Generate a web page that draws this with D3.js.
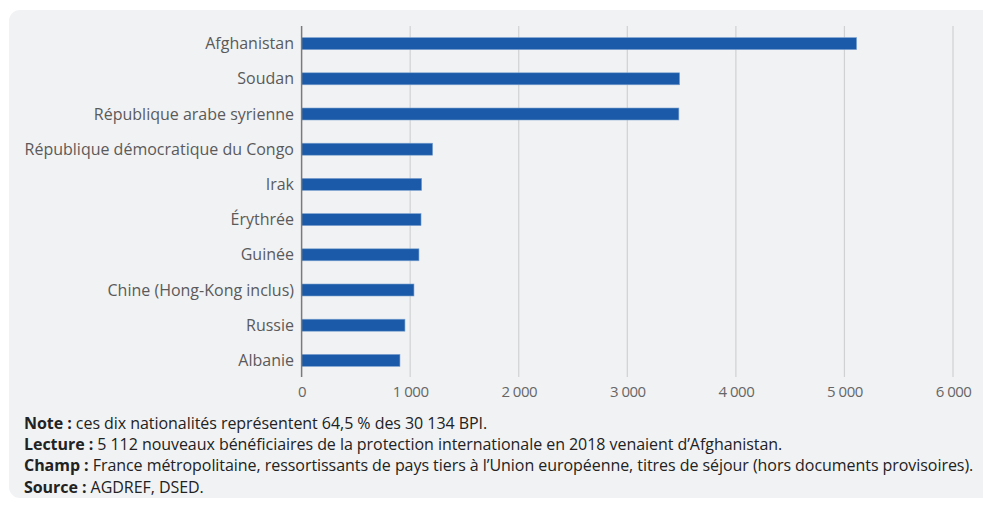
<!DOCTYPE html>
<html><head><meta charset="utf-8">
<script src="https://cdn.jsdelivr.net/npm/d3@7"></script>
<style>
html,body{margin:0;padding:0;background:#fff;}
svg{display:block;font-family:"Open Sans",sans-serif;}
</style></head>
<body>
<svg id="c" width="983" height="505"></svg>
<script>
const categories = ["Afghanistan","Soudan","République arabe syrienne","République démocratique du Congo","Irak","Érythrée","Guinée","Chine (Hong-Kong inclus)","Russie","Albanie"];
const values = [5112,3482,3475,1207,1106,1100,1081,1035,952,906];
const xTicks = [0,1000,2000,3000,4000,5000,6000];
const notes = [
  ["Note :"," ces dix nationalités représentent 64,5 % des 30 134 BPI."],
  ["Lecture :"," 5 112 nouveaux bénéficiaires de la protection internationale en 2018 venaient d’Afghanistan."],
  ["Champ :"," France métropolitaine, ressortissants de pays tiers à l’Union européenne, titres de séjour (hors documents provisoires)."],
  ["Source :"," AGDREF, DSED."]
];

const svg = d3.select("#c");
svg.append("rect").attr("x",9).attr("y",10).attr("width",984).attr("height",488).attr("rx",11).attr("fill","#f1f2f4");

const x = d3.scaleLinear().domain([0,6000]).range([301.6,953]);
const y = d3.scaleBand().domain(categories).range([26,378]).paddingInner(0.66).paddingOuter(0.33);

svg.append("g").selectAll("line").data(xTicks.slice(1)).join("line")
  .attr("x1",d=>x(d)).attr("x2",d=>x(d)).attr("y1",26).attr("y2",377)
  .attr("stroke","#d0d1d3").attr("stroke-width",1.2);

svg.append("g").selectAll("rect").data(categories).join("rect")
  .attr("x",x(0)).attr("y",d=>y(d)+y.bandwidth()/2-6)
  .attr("width",(d,i)=>x(values[i])-x(0)).attr("height",12)
  .attr("fill","#1a5aa8").attr("stroke","#7fa3d1").attr("stroke-width",0.6);

svg.append("line").attr("x1",x(0)).attr("x2",x(0)).attr("y1",26).attr("y2",377)
  .attr("stroke","#7a7a7a").attr("stroke-width",1.5);

svg.append("g").selectAll("text").data(categories).join("text")
  .attr("x",294).attr("y",d=>y(d)+y.bandwidth()/2).attr("dy","0.35em")
  .attr("text-anchor","end").attr("font-size",16).attr("fill","#5a5a5a").text(d=>d);

const fmt = d => d===0 ? "0" : d3.format(",")(d).replace(","," ");
const xAxis = d3.axisBottom(x).tickValues(xTicks).tickSize(0).tickPadding(0).tickFormat(fmt);
const gx = svg.append("g").attr("transform","translate(0,386)").call(xAxis);
gx.select(".domain").remove();
gx.selectAll("text").attr("font-size",15).attr("fill","#666").attr("font-family","'Open Sans',sans-serif").attr("letter-spacing","-0.5px").style("white-space","pre");

const ng = svg.append("g");
notes.forEach((n,i)=>{
  const t = ng.append("text").attr("x",24).attr("y",429+i*21.2).attr("font-size",16).attr("fill","#222").attr("letter-spacing","-0.05px");
  t.append("tspan").attr("font-weight","bold").text(n[0]);
  t.append("tspan").text(n[1]);
});
</script>
</body></html>
